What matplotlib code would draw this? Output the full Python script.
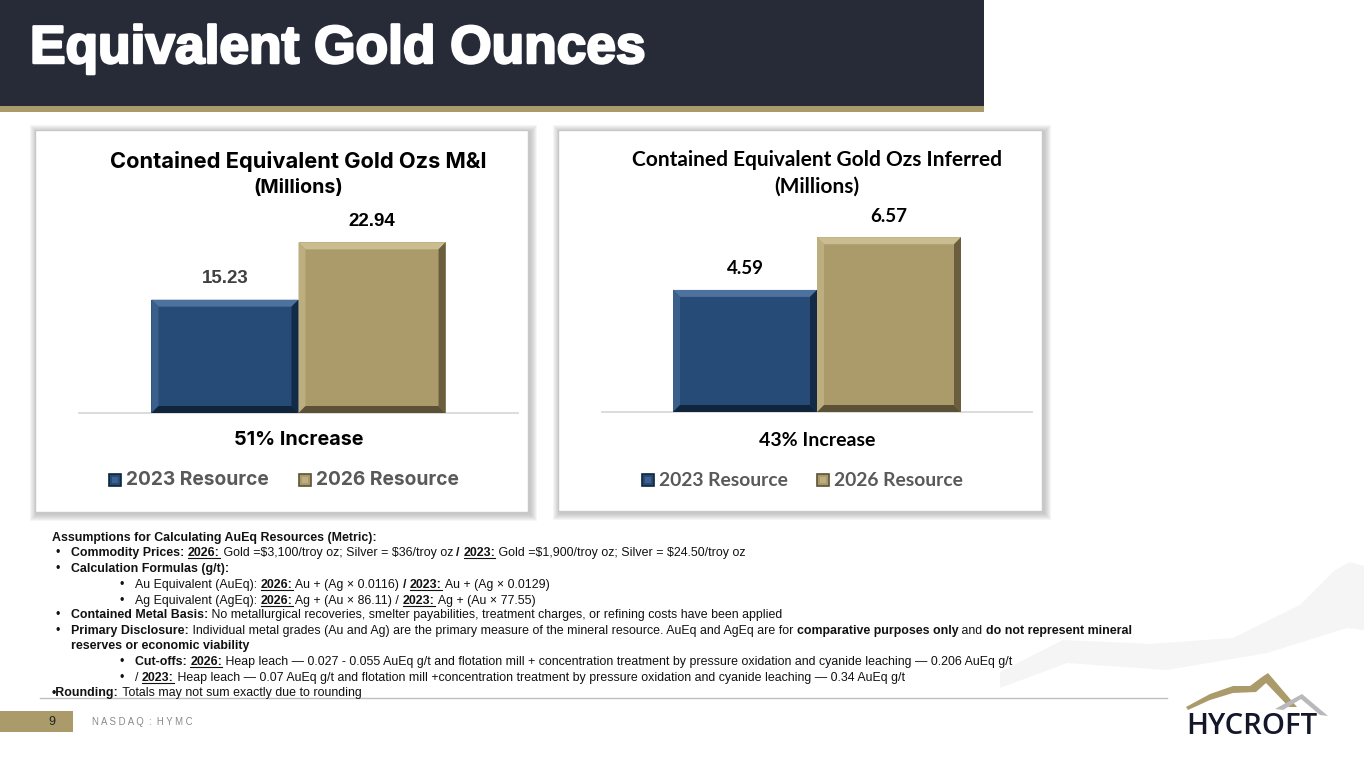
import matplotlib
matplotlib.use("Agg")
import matplotlib.pyplot as plt
import matplotlib.patheffects as pe
from matplotlib.patches import Rectangle, Polygon

plt.rcParams["text.parse_math"] = False

# ---------------- data ----------------
series = ["2023 Resource", "2026 Resource"]
mi_values = [15.23, 22.94]
inf_values = [4.59, 6.57]
mi_title = "Contained Equivalent Gold Ozs M&I"
inf_title = "Contained Equivalent Gold Ozs Inferred"
subtitle = "(Millions)"
mi_note = "51% Increase"
inf_note = "43% Increase"
page_title = "Equivalent Gold Ounces"

W, H = 1364, 767
fig = plt.figure(figsize=(W / 100, H / 100), dpi=100)
fig.patch.set_facecolor("white")
bg = fig.add_axes([0, 0, 1, 1], zorder=0)
bg.set_xlim(0, W)
bg.set_ylim(H, 0)
bg.axis("off")
r = fig.canvas.get_renderer()

BLUE = "#264b76"
GOLD = "#ab9b6b"
DARK = "#272b37"

# background swoosh (decorative)
upper = [(1000, 672), (1063, 640), (1150, 644), (1233, 638), (1300, 605), (1335, 570),
         (1350, 562), (1364, 566)]
lower = [(1364, 630), (1347, 628), (1267, 653), (1167, 670), (1067, 663), (1000, 688)]
bg.add_patch(Polygon(upper + lower, closed=True, facecolor="#f5f5f5", edgecolor="none", zorder=0))

# header
bg.add_patch(Rectangle((0, 0), 984, 107, facecolor=DARK, edgecolor="none", zorder=1))
bg.add_patch(Rectangle((0, 106), 984, 6, facecolor=GOLD, edgecolor="none", zorder=1))


def fit(x, y, s, width, ha="left", va="center", size0=20, **kw):
    t = bg.text(x, y, s, fontsize=size0, ha=ha, va=va, **kw)
    w = t.get_window_extent(r).width
    t.set_fontsize(size0 * width / w)
    return t


tt = fit(30, 49, page_title, 615, family="Liberation Sans", fontweight="bold",
         color="white", zorder=3)
tt.set_path_effects([pe.withStroke(linewidth=1.8, foreground="white")])

# chart boxes with soft shadow
for (x0, y0, x1, y1) in [(35, 130, 528, 512), (558, 130, 1042, 511)]:
    for k in range(7, 0, -1):
        bg.add_patch(Rectangle((x0 - k + 2, y0 - k + 2), x1 - x0 + 2 * k, y1 - y0 + 2 * k,
                               facecolor="#8a8a8a", edgecolor="none", alpha=0.08, zorder=1))
    bg.add_patch(Rectangle((x0, y0), x1 - x0, y1 - y0, facecolor="white",
                           edgecolor="#c8c8c8", lw=1, zorder=2))

SHADES = {
    BLUE: ("#4d729e", "#3a5f8b", "#132b47", "#10243c"),
    GOLD: ("#cbbd92", "#bdae80", "#6a5e3f", "#5b5136"),
}


def bevel(ax, patch, color, d=7):
    inv = ax.transData.inverted()
    x0, y0 = patch.get_x(), patch.get_y()
    x1, y1 = x0 + patch.get_width(), y0 + patch.get_height()
    (X0, Y0), (X1, Y1) = ax.transData.transform([(x0, y0), (x1, y1)])
    TL, TR, BR, BL = (X0, Y1), (X1, Y1), (X1, Y0), (X0, Y0)
    iTL, iTR, iBR, iBL = (X0 + d, Y1 - d), (X1 - d, Y1 - d), (X1 - d, Y0 + d), (X0 + d, Y0 + d)
    top, left, right, bottom = SHADES[color]
    for pts, c in [([TL, TR, iTR, iTL], top), ([BL, TL, iTL, iBL], left),
                   ([TR, BR, iBR, iTR], right), ([BR, BL, iBL, iBR], bottom)]:
        ax.add_patch(Polygon(inv.transform(pts), closed=True, facecolor=c,
                             edgecolor="none", clip_on=False, zorder=4))


def chart(px_left, px_right, px_base, px_top, ymax, values, title, note,
          title_w, sub_w, note_w, leg_w, fam, label_colors, ty, sy, ny, lx):
    ax = fig.add_axes([px_left / W, 1 - px_base / H, (px_right - px_left) / W,
                       (px_base - px_top) / H], zorder=3)
    ax.patch.set_alpha(0)
    ax.set_xlim(-0.993, 1.993)
    ax.set_ylim(0, ymax)
    for s in ["top", "right", "left"]:
        ax.spines[s].set_visible(False)
    ax.spines["bottom"].set_color("#d9d9d9")
    ax.spines["bottom"].set_linewidth(1.3)
    ax.set_xticks([])
    ax.set_yticks([])
    colors = [BLUE, GOLD]
    bars = ax.bar([0, 1], values, width=1.0, color=colors, edgecolor="none", zorder=3)
    for b, c in zip(bars, colors):
        bevel(ax, b, c)
    labs = ax.bar_label(bars, labels=[f"{v:.2f}" for v in values], padding=9,
                        fontsize=13.5, fontweight="bold", family=fam[1])
    for l, c in zip(labs, label_colors):
        l.set_color(c)
    cx = (px_left + px_right) / 2
    fit(cx, ty, title, title_w, ha="center", family=fam[0], fontweight="bold", color="black", zorder=5)
    fit(cx, sy, subtitle, sub_w, ha="center", family=fam[0], fontweight="bold", color="black", zorder=5)
    fit(cx, ny, note, note_w, ha="center", family=fam[0], fontweight="bold", color="black", zorder=5)
    for name, c, x in zip(series, colors, lx):
        bg.add_patch(Rectangle((x, 474), 12, 12, facecolor=c, edgecolor=SHADES[c][3], lw=1.2, zorder=5))
        bg.add_patch(Polygon([(x + 3, 477), (x + 9, 477), (x + 9, 483), (x + 3, 483)], closed=True,
                             facecolor=SHADES[c][0], edgecolor="none", zorder=5, alpha=0.6))
        fit(x + 17, 480, name, leg_w, ha="left", family=fam[0], fontweight="bold",
            color="#595959", zorder=5)
    return ax


chart(79, 518, 413, 200, 213 / 7.44, mi_values, mi_title, mi_note,
      377, 90, 130, 143, ("Inter", "Liberation Sans"), ["#404040", "black"],
      161, 188, 440, [109, 299])
chart(602, 1032, 412, 200, 212 / 26.6, inf_values, inf_title, inf_note,
      369, 85, 116, 129, ("Lato", "Lato"), ["black", "black"],
      160, 187, 441, [642, 817])

# ---------------- notes ----------------
NFAM = ["Liberation Sans Narrow", "Liberation Sans"]


def runs(x, y, parts, size, draw=True):
    arts = []
    for text, style in parts:
        fw = "bold" if "b" in style else "normal"
        t = bg.text(x, y, text + "|", fontsize=size, fontweight=fw, family=NFAM,
                    va="baseline", ha="left", color="#111111", zorder=5)
        wt = t.get_window_extent(r).width
        t.set_text("|")
        wb = t.get_window_extent(r).width
        t.set_text(text)
        w = wt - wb
        arts.append(t)
        if "u" in style and draw:
            arts += bg.plot([x, x + w], [y + 2, y + 2], color="#111111", lw=0.8, zorder=5)
        x += w
    if not draw:
        for a in arts:
            a.remove()
    return x


ref = [("Contained Metal Basis:", "b"),
       (" No metallurgical recoveries, smelter payabilities, treatment charges, or refining costs have been applied", "")]
x_end = runs(71, 0, ref, 10, draw=False)
NS = 10 * 708 / (x_end - 71)

lines = [
    (52, None, [("Assumptions for Calculating AuEq Resources (Metric):", "b")]),
    (71, 55, [("Commodity Prices: ", "b"), ("2026:", "bu"),
              (" Gold =$3,100/troy oz; Silver = $36/troy oz ", ""), ("/ ", "b"), ("2023:", "bu"),
              (" Gold =$1,900/troy oz; Silver = $24.50/troy oz", "")]),
    (71, 55, [("Calculation Formulas (g/t):", "b")]),
    (135, 120, [("Au Equivalent (AuEq): ", ""), ("2026:", "bu"), (" Au + (Ag × 0.0116) ", ""),
                ("/ ", "b"), ("2023:", "bu"), (" Au + (Ag × 0.0129)", "")]),
    (135, 120, [("Ag Equivalent (AgEq): ", ""), ("2026:", "bu"), (" Ag + (Au × 86.11) / ", ""),
                ("2023:", "bu"), (" Ag + (Au × 77.55)", "")]),
    (71, 55, ref),
    (71, 55, [("Primary Disclosure:", "b"),
              (" Individual metal grades (Au and Ag) are the primary measure of the mineral resource. AuEq and AgEq are for ", ""),
              ("comparative purposes only", "b"), (" and ", ""), ("do not represent mineral", "b")]),
    (71, None, [("reserves or economic viability", "b")]),
    (135, 120, [("Cut-offs: ", "b"), ("2026:", "bu"),
                (" Heap leach — 0.027 - 0.055 AuEq g/t and flotation mill + concentration treatment by pressure oxidation and cyanide leaching — 0.206 AuEq g/t", "")]),
    (135, 120, [("/ ", ""), ("2023:", "bu"),
                (" Heap leach — 0.07 AuEq g/t and flotation mill +concentration treatment by pressure oxidation and cyanide leaching — 0.34 AuEq g/t", "")]),
    (52, None, [("•Rounding:", "b"), (" Totals may not sum exactly due to rounding", "")]),
]
rows = [537, 552, 568, 584, 600, 614, 630, 645, 661, 677, 692]
for (x, bx, parts), yc in zip(lines, rows):
    yb = yc + 4
    if bx is not None:
        bg.text(bx, yb, "•", fontsize=NS, family=NFAM, va="baseline", ha="left", color="#111111", zorder=5)
    runs(x, yb, parts, NS)

# ---------------- footer ----------------
bg.plot([40, 1167], [698, 698], color="#bfbfbf", lw=1, zorder=2)
bg.add_patch(Rectangle((0, 711), 73, 21, facecolor=GOLD, edgecolor="none", zorder=2))
bg.text(52, 722, "9", fontsize=9, family="Liberation Sans", ha="center", va="center", color="#222222", zorder=3)
fit(92, 722, "N A S D A Q  :  H Y M C", 102, ha="left", family="Liberation Sans",
    color="#8a8a8a", zorder=3)

# logo (decorative)
gold_sw = [(1186, 707), (1210, 694), (1233, 686), (1250, 686), (1262, 677), (1268, 673),
           (1297, 707), (1289, 707), (1266, 683), (1256, 692), (1233, 693), (1210, 700), (1188, 710)]
bg.add_patch(Polygon(gold_sw, closed=True, facecolor=GOLD, edgecolor="none", zorder=3))
gray_pk = [(1275, 709), (1302, 694), (1328, 716), (1320, 715), (1301, 699), (1283, 710)]
bg.add_patch(Polygon(gray_pk, closed=True, facecolor="#b9b9bb", edgecolor="none", zorder=3))
fit(1186, 734, "HYCROFT", 131, ha="left", va="baseline", family="Open Sans",
    fontweight="semibold", color="#14172a", zorder=4)

fig.savefig("out.png", dpi=100, facecolor="white")
